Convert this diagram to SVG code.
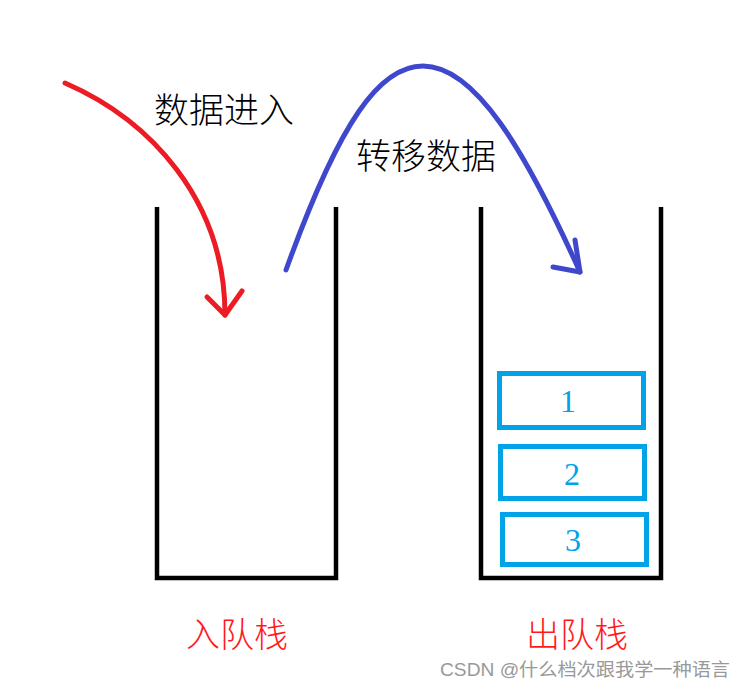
<svg xmlns="http://www.w3.org/2000/svg" width="745" height="688" viewBox="0 0 745 688">
<style>
.stack{fill:none;stroke:#000;stroke-width:4.5;stroke-linecap:butt}
.box{fill:none;stroke:#00a2e8;stroke-width:5}
.num{font-family:"Liberation Serif",serif;font-size:32px;fill:#00a2e8;text-anchor:middle}
.lbl{font-family:"Noto Sans CJK SC",sans-serif;font-size:35px;fill:#000;font-weight:300}
.title{font-family:"Noto Sans CJK SC",sans-serif;font-size:34px;fill:#ff1a1a;font-weight:300}
.wm{font-family:"Liberation Sans","Noto Sans CJK SC",sans-serif;font-size:18px;fill:#999}
</style>
<rect width="745" height="688" fill="#fff"/>
<g id="in-stack">
<path class="stack" d="M157,207 V578 H336 V207"/>
<text class="title" x="186" y="647">入队栈</text>
</g>
<g id="out-stack">
<path class="stack" d="M481,207 V578 H661 V207"/>
<text class="title" x="526" y="647">出队栈</text>
</g>
<g id="item1"><rect class="box" x="499.5" y="373.5" width="144" height="54"/><text class="num" x="568" y="412">1</text></g>
<g id="item2"><rect class="box" x="500.5" y="446.5" width="144" height="52"/><text class="num" x="572" y="485">2</text></g>
<g id="item3"><rect class="box" x="502.5" y="514.5" width="144" height="50"/><text class="num" x="573" y="551">3</text></g>
<g id="connectors" fill="none" stroke-width="5" stroke-linecap="round" stroke-linejoin="round">
<path stroke="#ed1c24" d="M65,83 C150,120 225,200 225,315"/>
<path stroke="#ed1c24" d="M207,297 L225,315 L242,291"/>
<path stroke="#3f48cc" d="M286,270 C340,120 380,66 423,66 C475,66 525,150 580,272"/>
<path stroke="#3f48cc" d="M553,267 L580,272 L575,240"/>
</g>
<g id="labels">
<text class="lbl" x="154" y="123">数据进入</text>
<text class="lbl" x="356" y="169">转移数据</text>
</g>
<text class="wm" x="440" y="676" textLength="290" lengthAdjust="spacingAndGlyphs">CSDN @什么档次跟我学一种语言</text>
</svg>
